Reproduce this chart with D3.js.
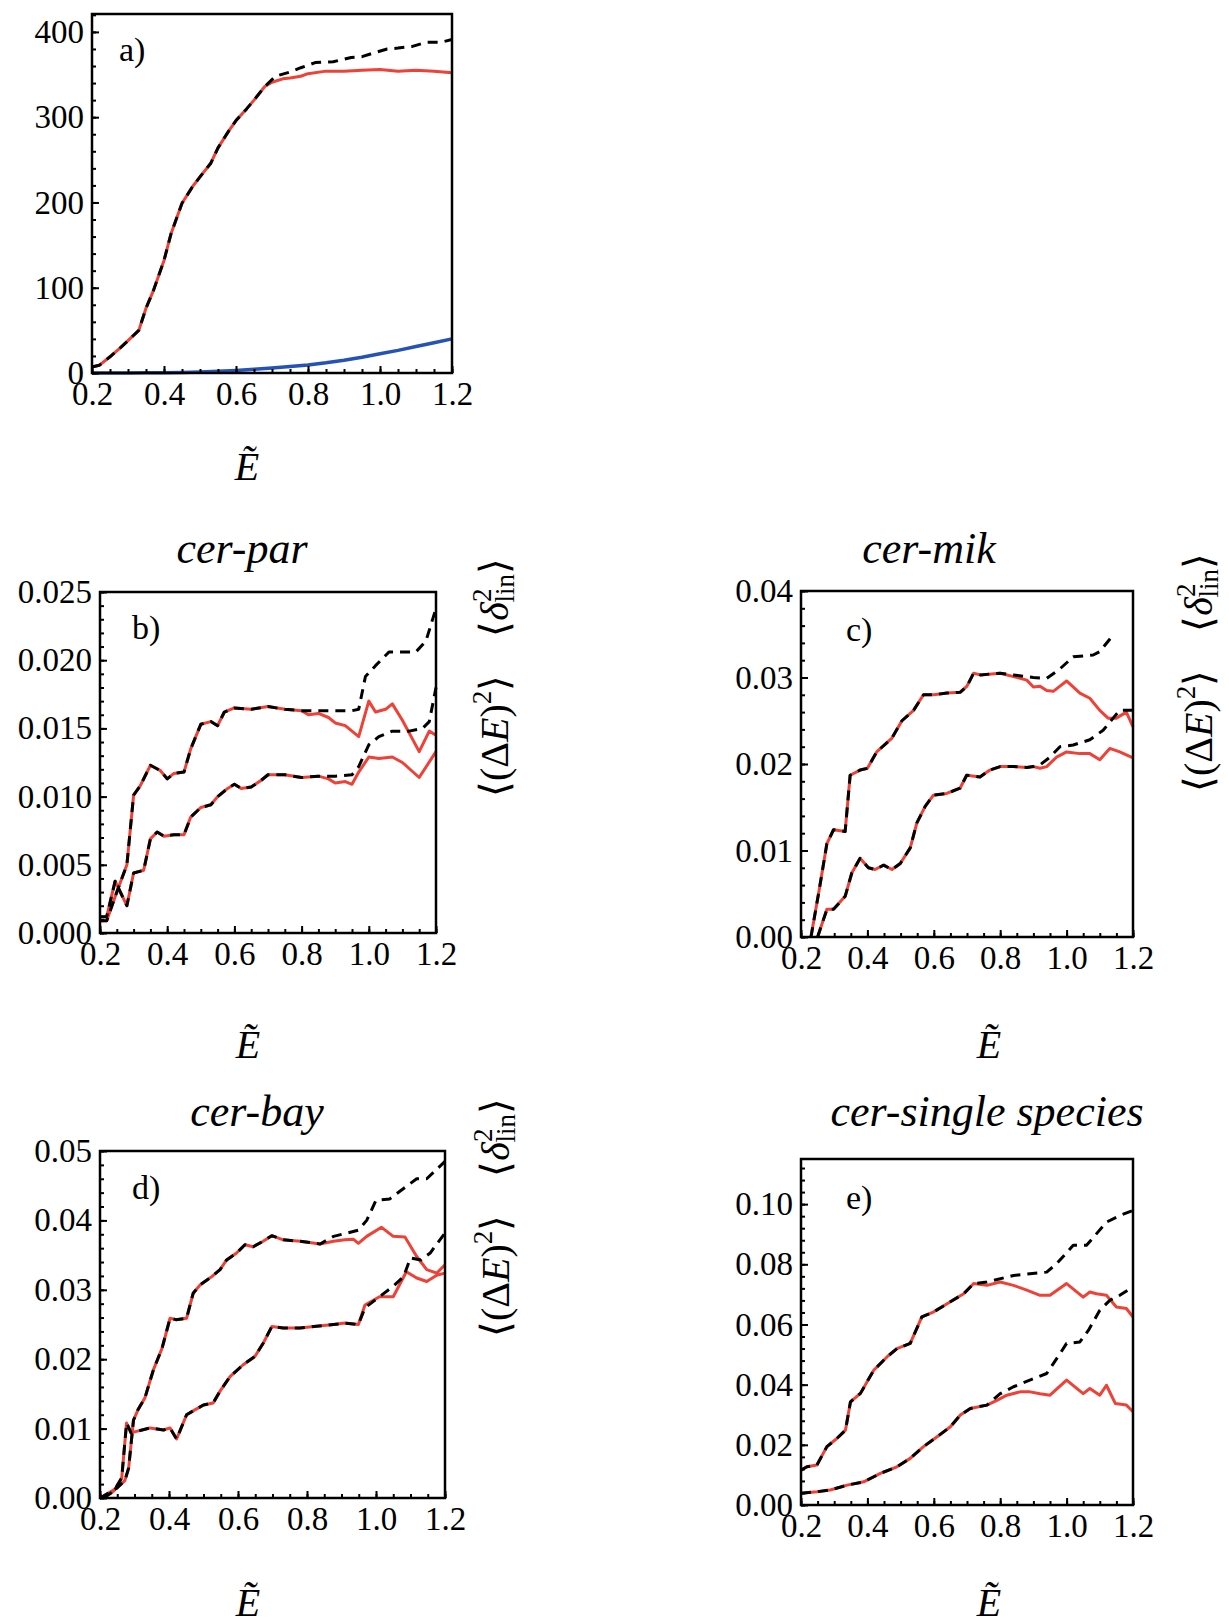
<!DOCTYPE html>
<html>
<head>
<meta charset="utf-8">
<script src="https://cdn.jsdelivr.net/npm/d3@7"></script>
<style>
  body { margin: 0; background: #fff; }
  svg { display: block; background: #fff; }
  text { font-family: "Liberation Serif", "Times New Roman", serif; fill: #000; }
</style>
</head>
<body>
<svg width="1229" height="1618"></svg>
<script>
// ---- tick labels ----
const xTicks = [0.2, 0.4, 0.6, 0.8, 1.0, 1.2];
const aYTicks = [0, 100, 200, 300, 400];
const bYTicks = [0, 0.005, 0.010, 0.015, 0.020, 0.025];
const cYTicks = [0, 0.01, 0.02, 0.03, 0.04];
const dYTicks = [0, 0.01, 0.02, 0.03, 0.04, 0.05];
const eYTicks = [0, 0.02, 0.04, 0.06, 0.08, 0.10];

// ---- panel a ---- (common part is where red and dashed coincide)
const aCommon = [[0.2,7],[0.22,9],[0.25,19],[0.28,30],[0.3,38],[0.33,50],[0.35,76],[0.37,96],[0.4,132],[0.42,164],[0.45,199],[0.48,219],[0.5,230],[0.53,246],[0.55,264],[0.58,284],[0.6,296],[0.63,310],[0.65,320],[0.68,336]];
const aRedTail = [[0.7,341],[0.73,345],[0.75,346],[0.78,348],[0.8,351],[0.85,354],[0.9,354],[0.95,355],[1.0,356],[1.05,354],[1.1,355],[1.15,354],[1.2,352]];
const aDashTail = [[0.71,348],[0.75,353],[0.78,358],[0.82,364],[0.87,365],[0.92,370],[0.95,371],[0.98,375],[1.02,380],[1.05,381],[1.09,383],[1.13,388],[1.17,388],[1.2,391]];
const aBlue = [[0.2,0],[0.3,0],[0.35,0.2],[0.4,0.4],[0.45,0.7],[0.5,1.2],[0.55,2],[0.6,3],[0.65,4.3],[0.7,5.8],[0.75,7.5],[0.8,9.5],[0.85,12],[0.9,15],[0.95,18.5],[1.0,22.5],[1.05,26.5],[1.1,31],[1.15,35.5],[1.2,40]];

// ---- panel b: cer-par ----
const bUpCommon = [[0.2,0.0009],[0.22,0.0009],[0.25,0.0030],[0.28,0.0050],[0.30,0.0101],[0.32,0.0108],[0.35,0.0123],[0.38,0.0119],[0.40,0.0113],[0.42,0.0117],[0.45,0.0118],[0.47,0.0135],[0.50,0.0153],[0.53,0.0155],[0.55,0.0152],[0.57,0.0162],[0.60,0.0165],[0.65,0.0164],[0.70,0.0166],[0.75,0.0164],[0.80,0.0163]];
const bUpRedTail = [[0.82,0.0160],[0.85,0.0161],[0.88,0.0158],[0.90,0.0154],[0.93,0.0152],[0.97,0.0144],[1.00,0.0170],[1.02,0.0162],[1.05,0.0164],[1.07,0.0168],[1.10,0.0156],[1.15,0.0133],[1.18,0.0148],[1.20,0.0145]];
const bUpDashTail = [[0.85,0.0163],[0.90,0.0163],[0.95,0.0163],[0.97,0.0164],[0.99,0.0188],[1.02,0.0196],[1.06,0.0206],[1.10,0.0206],[1.14,0.0206],[1.17,0.0214],[1.20,0.0238]];
const bLoCommon = [[0.20,0.0012],[0.22,0.0012],[0.245,0.0038],[0.28,0.0020],[0.30,0.0044],[0.33,0.0046],[0.35,0.0069],[0.37,0.0074],[0.39,0.0071],[0.42,0.0072],[0.45,0.0072],[0.47,0.0085],[0.50,0.0092],[0.53,0.0094],[0.55,0.0100],[0.58,0.0106],[0.60,0.0109],[0.62,0.0106],[0.65,0.0107],[0.68,0.0112],[0.70,0.0116],[0.75,0.0116],[0.80,0.0114],[0.85,0.0115]];
const bLoRedTail = [[0.88,0.0113],[0.90,0.0110],[0.93,0.0111],[0.95,0.0109],[0.97,0.0118],[1.00,0.0129],[1.03,0.0128],[1.07,0.0129],[1.10,0.0125],[1.15,0.0114],[1.20,0.0133]];
const bLoDashTail = [[0.90,0.0115],[0.95,0.0116],[0.97,0.0122],[1.00,0.0138],[1.03,0.0144],[1.07,0.0148],[1.12,0.0148],[1.16,0.0150],[1.18,0.0155],[1.20,0.0180]];

// ---- panel c: cer-mik ----
const cUpCommon = [[0.23,0.0],[0.255,0.0055],[0.278,0.0108],[0.298,0.0124],[0.333,0.0122],[0.348,0.0187],[0.378,0.0193],[0.40,0.0195],[0.428,0.0214],[0.474,0.0230],[0.504,0.0250],[0.539,0.0262],[0.569,0.0280],[0.60,0.0280],[0.64,0.0282],[0.68,0.0283],[0.70,0.0290],[0.72,0.0305],[0.74,0.0303],[0.80,0.0305]];
const cUpRedTail = [[0.84,0.0301],[0.88,0.0297],[0.90,0.0289],[0.92,0.0290],[0.94,0.0285],[0.96,0.0284],[0.98,0.0290],[1.00,0.0296],[1.04,0.0282],[1.07,0.0276],[1.10,0.0262],[1.125,0.0253],[1.15,0.0253],[1.18,0.0260],[1.20,0.0243]];
const cUpDashTail = [[0.84,0.0303],[0.90,0.0300],[0.94,0.0299],[0.98,0.0310],[1.02,0.0324],[1.08,0.0326],[1.10,0.0330],[1.14,0.0349]];
const cLoCommon = [[0.25,0.0],[0.278,0.0032],[0.298,0.0032],[0.333,0.0047],[0.353,0.0074],[0.378,0.0091],[0.403,0.0080],[0.423,0.0078],[0.449,0.0083],[0.474,0.0078],[0.499,0.0085],[0.529,0.0103],[0.549,0.0132],[0.574,0.0151],[0.599,0.0164],[0.639,0.0166],[0.679,0.0172],[0.699,0.0187],[0.739,0.0185],[0.769,0.0193],[0.80,0.0197],[0.84,0.0197],[0.88,0.0196],[0.90,0.0197]];
const cLoRedTail = [[0.92,0.0195],[0.94,0.0197],[0.97,0.0208],[1.00,0.0214],[1.04,0.0212],[1.07,0.0212],[1.10,0.0205],[1.13,0.0218],[1.16,0.0214],[1.20,0.0207]];
const cLoDashTail = [[0.92,0.0199],[0.95,0.0208],[0.98,0.0220],[1.02,0.0222],[1.07,0.0228],[1.11,0.0239],[1.14,0.0253],[1.16,0.0262],[1.20,0.0262]];

// ---- panel d: cer-bay ----
const dUpCommon = [[0.20,0.0],[0.248,0.0014],[0.272,0.0025],[0.283,0.0043],[0.297,0.0112],[0.31,0.0127],[0.33,0.0144],[0.355,0.0185],[0.38,0.0216],[0.403,0.0259],[0.42,0.0257],[0.451,0.0259],[0.47,0.0295],[0.49,0.0307],[0.524,0.0319],[0.548,0.0329],[0.567,0.0343],[0.596,0.0353],[0.62,0.0365],[0.644,0.0362],[0.673,0.0370],[0.698,0.0378],[0.731,0.0372],[0.78,0.0370],[0.838,0.0366]];
const dUpRedTail = [[0.877,0.0370],[0.91,0.0372],[0.934,0.0373],[0.949,0.0367],[0.973,0.0377],[1.016,0.0390],[1.05,0.0377],[1.084,0.0376],[1.118,0.0348],[1.147,0.0329],[1.176,0.0324],[1.20,0.0336]];
const dUpDashTail = [[0.877,0.0377],[0.91,0.0381],[0.949,0.0386],[0.973,0.0400],[1.0,0.0429],[1.04,0.0431],[1.08,0.0446],[1.118,0.0460],[1.147,0.0460],[1.20,0.0485]];
const dLoCommon = [[0.21,0.0],[0.24,0.0010],[0.263,0.0029],[0.277,0.0108],[0.29,0.0094],[0.306,0.0096],[0.345,0.0101],[0.384,0.0098],[0.403,0.0101],[0.422,0.0085],[0.451,0.0120],[0.475,0.0127],[0.50,0.0134],[0.528,0.0137],[0.548,0.0154],[0.577,0.0175],[0.615,0.0192],[0.649,0.0204],[0.673,0.0223],[0.698,0.0247],[0.731,0.0245],[0.78,0.0245],[0.82,0.0247],[0.877,0.0250],[0.91,0.0252],[0.949,0.0250]];
const dLoRedTail = [[0.968,0.0278],[1.01,0.0290],[1.05,0.0290],[1.088,0.0326],[1.118,0.0317],[1.147,0.0312],[1.176,0.0321],[1.20,0.0324]];
const dLoDashTail = [[0.968,0.0274],[1.01,0.0290],[1.05,0.0305],[1.08,0.0319],[1.10,0.0346],[1.13,0.0343],[1.157,0.0353],[1.20,0.0382]];

// ---- panel e: cer-single species ----
const eUpCommon = [[0.20,0.0116],[0.218,0.0127],[0.248,0.0133],[0.278,0.0194],[0.308,0.0221],[0.334,0.0249],[0.349,0.0343],[0.379,0.0371],[0.419,0.0448],[0.459,0.0492],[0.489,0.0520],[0.529,0.0537],[0.564,0.0625],[0.60,0.0642],[0.64,0.0669],[0.69,0.0702],[0.72,0.0736]];
const eUpRedTail = [[0.76,0.0730],[0.80,0.0741],[0.84,0.0730],[0.88,0.0714],[0.92,0.0697],[0.95,0.0697],[1.00,0.0736],[1.05,0.0691],[1.07,0.0708],[1.09,0.0702],[1.12,0.0697],[1.15,0.0658],[1.18,0.0653],[1.20,0.0625]];
const eUpDashTail = [[0.76,0.0741],[0.84,0.0763],[0.94,0.0774],[0.97,0.0802],[1.02,0.0863],[1.06,0.0863],[1.12,0.0940],[1.16,0.0962],[1.20,0.0979]];
const eLoCommon = [[0.20,0.0039],[0.248,0.0044],[0.288,0.0050],[0.339,0.0066],[0.389,0.0077],[0.439,0.0105],[0.489,0.0127],[0.529,0.0155],[0.569,0.0194],[0.61,0.0227],[0.65,0.0260],[0.68,0.0299],[0.71,0.0321],[0.76,0.0332]];
const eLoRedTail = [[0.79,0.0348],[0.82,0.0365],[0.86,0.0376],[0.89,0.0376],[0.92,0.0370],[0.95,0.0365],[1.00,0.0415],[1.05,0.0370],[1.07,0.0387],[1.10,0.0365],[1.12,0.0398],[1.147,0.0337],[1.18,0.0332],[1.20,0.0310]];
const eLoDashTail = [[0.80,0.0370],[0.84,0.0393],[0.90,0.0420],[0.94,0.0437],[0.98,0.0503],[1.00,0.0537],[1.04,0.0542],[1.066,0.0581],[1.10,0.0647],[1.13,0.0680],[1.16,0.0697],[1.20,0.0725]];

// ---- styles ----
const RED = "#ef4136", BLUE = "#2553b5";
const red = d => ({ data: d, color: RED, dash: null, width: 3 });
const dashed = d => ({ data: d, color: "#000", dash: "10,7", width: 3 });

const svg = d3.select("svg");

// Layout of each frame: box = [left, top, right, bottom] in pixels
const panels = [
    { box: [92, 14, 452, 373], yDomain: [0, 421], yTicks: aYTicks, yMinor: 20, yFmt: d3.format("d"),
      label: "a)", labelOff: [27, 47], eLabel: [247, 480],
      series: [red(aCommon.concat(aRedTail)), dashed(aCommon.concat(aDashTail)),
               { data: aBlue, color: BLUE, dash: null, width: 3.5 }] },
    { box: [100, 592, 436, 933], yDomain: [0, 0.025], yTicks: bYTicks, yMinor: 0.001, yFmt: d3.format(".3f"),
      label: "b)", labelOff: [32, 47], eLabel: [248, 1058], title: "cer-par", titleAt: [242, 563], side: [508, 797],
      series: [red(bUpCommon.concat(bUpRedTail)), red(bLoCommon.concat(bLoRedTail)),
               dashed(bUpCommon.concat(bUpDashTail)), dashed(bLoCommon.concat(bLoDashTail))] },
    { box: [801, 591, 1133, 937], yDomain: [0, 0.04], yTicks: cYTicks, yMinor: 0.002, yFmt: d3.format(".2f"),
      label: "c)", labelOff: [45, 50], eLabel: [989, 1058], title: "cer-mik", titleAt: [929, 563], side: [1212, 792],
      series: [red(cUpCommon.concat(cUpRedTail)), red(cLoCommon.concat(cLoRedTail)),
               dashed(cUpCommon.concat(cUpDashTail)), dashed(cLoCommon.concat(cLoDashTail))] },
    { box: [100, 1151, 445, 1498], yDomain: [0, 0.05], yTicks: dYTicks, yMinor: 0.002, yFmt: d3.format(".2f"),
      label: "d)", labelOff: [32, 48], eLabel: [248, 1616], title: "cer-bay", titleAt: [257, 1126], side: [509, 1337],
      series: [red(dUpCommon.concat(dUpRedTail)), red(dLoCommon.concat(dLoRedTail)),
               dashed(dUpCommon.concat(dUpDashTail)), dashed(dLoCommon.concat(dLoDashTail))] },
    { box: [801, 1159, 1133, 1505], yDomain: [0, 0.115], yTicks: eYTicks, yMinor: 0.004, yFmt: d3.format(".2f"),
      label: "e)", labelOff: [45, 50], eLabel: [989, 1616], title: "cer-single species", titleAt: [987, 1126],
      series: [red(eUpCommon.concat(eUpRedTail)), red(eLoCommon.concat(eLoRedTail)),
               dashed(eUpCommon.concat(eUpDashTail)), dashed(eLoCommon.concat(eLoDashTail))] }
];

panels.forEach(drawPanel);

function drawPanel(p) {
    const [x0, y0, x1, y1] = p.box;
    const x = d3.scaleLinear().domain([0.2, 1.2]).range([x0, x1]);
    const y = d3.scaleLinear().domain(p.yDomain).range([y1, y0]);
    const g = svg.append("g");

    // curves
    const line = d3.line().x(d => x(d[0])).y(d => y(d[1]));
    p.series.forEach(s => {
        g.append("path")
            .attr("d", line(s.data))
            .attr("fill", "none")
            .attr("stroke", s.color)
            .attr("stroke-width", s.width)
            .attr("stroke-linejoin", "round")
            .attr("stroke-dasharray", s.dash);
    });

    // ticks pointing inward, labels only on major ticks
    const xMinor = d3.range(0.2, 1.2001, 0.05);
    const yMinor = d3.range(p.yDomain[0], p.yDomain[1] + 1e-9, p.yMinor);

    const styleAxis = a => {
        a.select(".domain").remove();
        a.attr("font-size", 33).attr("font-family", null);
        a.selectAll("line").attr("stroke", "#000").attr("stroke-width", 2);
    };

    g.append("g").attr("transform", `translate(0,${y1})`)
        .call(d3.axisBottom(x).tickValues(xMinor).tickFormat("").tickSize(-4))
        .call(styleAxis);
    g.append("g").attr("transform", `translate(0,${y1})`)
        .call(d3.axisBottom(x).tickValues(xTicks).tickFormat(d3.format(".1f")).tickSize(-7).tickPadding(9))
        .call(styleAxis);
    g.append("g").attr("transform", `translate(${x0},0)`)
        .call(d3.axisLeft(y).tickValues(yMinor).tickFormat("").tickSize(-4))
        .call(styleAxis);
    g.append("g").attr("transform", `translate(${x0},0)`)
        .call(d3.axisLeft(y).tickValues(p.yTicks).tickFormat(p.yFmt).tickSize(-7).tickPadding(8))
        .call(styleAxis);

    // frame
    g.append("rect")
        .attr("x", x0).attr("y", y0)
        .attr("width", x1 - x0).attr("height", y1 - y0)
        .attr("fill", "none")
        .attr("stroke", "#000")
        .attr("stroke-width", 2.5);

    // panel letter
    g.append("text")
        .attr("x", x0 + p.labelOff[0]).attr("y", y0 + p.labelOff[1])
        .attr("font-size", 34)
        .text(p.label);

    // x-axis label
    g.append("text")
        .attr("x", p.eLabel[0]).attr("y", p.eLabel[1])
        .attr("text-anchor", "middle")
        .attr("font-size", 40)
        .attr("font-style", "italic")
        .text("\u1EBC");

    if (p.title) {
        g.append("text")
            .attr("x", p.titleAt[0]).attr("y", p.titleAt[1])
            .attr("text-anchor", "middle")
            .attr("font-size", 44)
            .attr("font-style", "italic")
            .text(p.title);
    }

    if (p.side) sideLabel(p.side[0], p.side[1]);
}

// rotated label  <(ΔE)^2>   <δ^2_lin>
function sideLabel(px, py) {
    const t = svg.append("text")
        .attr("transform", `translate(${px},${py}) rotate(-90)`)
        .attr("font-size", 40);
    t.append("tspan").text("\u27E8(\u0394");
    t.append("tspan").attr("font-style", "italic").text("E");
    t.append("tspan").text(")");
    t.append("tspan").attr("font-size", 27).attr("dy", -17).text("2");
    t.append("tspan").attr("dy", 17).text("\u27E9");
    t.append("tspan").attr("dx", 38).text("\u27E8");
    t.append("tspan").attr("font-style", "italic").text("\u03B4");
    t.append("tspan").attr("font-size", 27).attr("dy", -17).text("2");
    t.append("tspan").attr("font-size", 27).attr("dx", -14).attr("dy", 23).text("lin");
    t.append("tspan").attr("dy", -6).text("\u27E9");
}
</script>
</body>
</html>
